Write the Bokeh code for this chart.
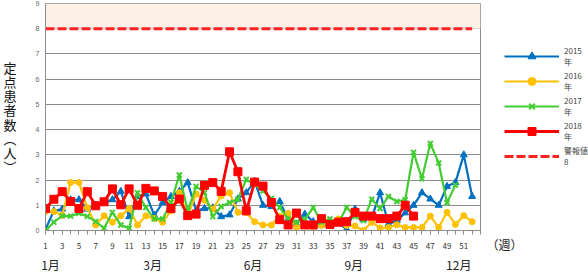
from bokeh.plotting import figure
from bokeh.layouts import row
from bokeh.models import (Range1d, FixedTicker, Legend, LegendItem,
                          BoxAnnotation, LinearAxis)
from bokeh.embed import file_html
from bokeh.resources import INLINE

# ---------------- data ----------------
weeks = list(range(1, 53))
y2015 = [0.05, 0.78, 0.85, 1.22, 1.22, 0.85, 1.0, 1.1, 1.22, 1.55,
         0.55, 1.35, 1.45, 0.6, 1.1, 1.35, 1.55, 1.9, 0.8, 0.87,
         0.9, 0.55, 0.62, 1.25, 1.5, 1.95, 1.0, 0.95, 1.15, 0.45,
         0.25, 0.65, 0.35, 0.22, 0.25, 0.3, 0.05, 0.85, 0.45, 0.5,
         1.5, 0.25, 0.4, 0.7, 1.0, 1.5, 1.25, 1.0, 1.75, 1.9,
         3.0, 1.35]
y2016 = [0.75, 0.75, 0.6, 1.9, 1.9, 0.9, 0.22, 0.58, 0.33, 0.58,
         0.87, 0.22, 0.58, 0.48, 0.33, 0.78, 1.5, 0.58, 1.45, 1.2,
         0.85, 1.37, 1.5, 0.72, 0.7, 0.35, 0.22, 0.22, 0.57, 0.68,
         0.12, 0.26, 0.16, 0.2, 0.33, 0.46, 0.2, 0.18, 0.0, 0.33,
         0.1, 0.12, 0.23, 0.12, 0.12, 0.12, 0.57, 0.12, 0.72, 0.24,
         0.59, 0.35]
y2017 = [0.0, 0.33, 0.58, 0.57, 0.68, 0.56, 0.36, 0.09, 0.72, 0.22,
         0.09, 1.5, 0.91, 0.46, 0.46, 1.11, 2.2, 0.78, 1.75, 1.5,
         0.55, 0.95, 1.11, 1.24, 2.02, 1.83, 1.57, 1.27, 0.91, 0.46,
         0.33, 0.45, 0.91, 0.33, 0.46, 0.3, 0.91, 0.55, 0.39, 1.24,
         0.87, 1.35, 1.15, 1.22, 3.1, 2.05, 3.45, 2.68, 1.1, 1.8]
y2018 = [0.87, 1.24, 1.54, 1.15, 0.87, 1.54, 0.98, 1.14, 1.65, 1.02,
         1.65, 1.0, 1.67, 1.57, 1.35, 0.87, 1.25, 0.59, 0.65, 1.79,
         1.9, 1.55, 3.12, 2.33, 0.78, 1.92, 1.76, 1.11, 0.43, 0.22,
         0.69, 0.22, 0.22, 0.47, 0.24, 0.33, 0.35, 0.72, 0.57, 0.57,
         0.47, 0.47, 0.57, 1.0, 0.57]
threshold = 8
x_tick_labels = list(range(1, 52, 2))
month_labels = ["1月", "3月", "6月", "9月", "12月"]
month_weeks = [1.6, 13.8, 25.8, 37.85, 50.4]
series_names = ["2015\n年", "2016\n年", "2017\n年", "2018\n年"]
threshold_name = "警報値\n8"
unit_label = "（週）"

FONT = "Noto Sans CJK JP"
GRID = "#8c8c8c"

p = figure(width=481, height=275, output_backend="svg", toolbar_location=None,
           x_range=Range1d(1, 53), y_range=Range1d(0, 9),
           min_border_left=41, min_border_right=1, min_border_top=3,
           min_border_bottom=42, background_fill_color="white",
           border_fill_color="white")
p.outline_line_color = GRID
p.xgrid.visible = False
p.ygrid.grid_line_color = GRID
p.ygrid.ticker = FixedTicker(ticks=list(range(0, 10)))

# warning zone
p.add_layout(BoxAnnotation(bottom=threshold, top=9, fill_color="#fdf0e6",
                           fill_alpha=1, line_alpha=0, level="underlay"))

# axes
xa = p.xaxis[0]
xa.ticker = FixedTicker(ticks=x_tick_labels, minor_ticks=list(range(1, 54)))
xa.axis_line_color = GRID
xa.major_tick_line_color = GRID
xa.minor_tick_line_color = GRID
xa.major_tick_in = 0
xa.major_tick_out = 4
xa.minor_tick_in = 0
xa.minor_tick_out = 4
xa.major_label_text_font_size = "8px"
xa.major_label_text_color = "#333333"
xa.major_label_text_font = FONT
xa.major_label_standoff = 8

ya = p.yaxis[0]
ya.ticker = FixedTicker(ticks=list(range(0, 10)))
ya.axis_line_color = GRID
ya.major_tick_in = 0
ya.major_tick_out = 0
ya.minor_tick_line_color = None
ya.major_label_text_font_size = "7px"
ya.major_label_text_color = "#666666"
ya.major_label_standoff = 6
ya.axis_label = "定\n点\n患\n者\n数\n︵\n人\n︶"
ya.axis_label_orientation = "horizontal"
ya.axis_label_text_font = FONT
ya.axis_label_text_font_size = "13px"
ya.axis_label_text_font_style = "normal"
ya.axis_label_text_color = "#111111"
ya.axis_label_text_line_height = 0.74
ya.axis_label_standoff = 16

month_axis = LinearAxis(ticker=FixedTicker(ticks=month_weeks),
                        major_label_overrides={m: t for m, t in zip(month_weeks, month_labels)})
month_axis.axis_line_color = None
month_axis.major_tick_line_color = None
month_axis.minor_tick_line_color = None
month_axis.major_label_text_font = FONT
month_axis.major_label_text_font_size = "12px"
month_axis.major_label_text_color = "#222222"
month_axis.major_label_standoff = -2
p.add_layout(month_axis, "below")

# threshold line
thr_style = dict(line_color="#ff2020", line_width=3, line_dash="9 3")
p.line([weeks[0], weeks[-1]], [threshold, threshold], **thr_style)

colors = ["#0070c0", "#ffc000", "#44cc33", "#ff0000"]
data = [y2015, y2016, y2017, y2018]
markers = ["triangle", "circle", "x", "square"]
msizes = [7, 6, 7, 8]
lwidths = [2.2, 2.2, 2.2, 2.8]

# ---------------- legend panel (frames of a row are aligned) ----------------
lg = figure(width=107, height=275, output_backend="svg", toolbar_location=None,
            x_range=Range1d(0, 107), y_range=Range1d(0, 1),
            min_border_left=0, min_border_right=0, min_border_top=3,
            min_border_bottom=42, y_axis_type=None,
            background_fill_color="white", border_fill_color="white")
lg.outline_line_color = None
lg.grid.visible = False
# the unit label "（週）" sits on the level of the week tick labels
ua = lg.xaxis[0]
ua.ticker = FixedTicker(ticks=[13])
ua.major_label_overrides = {13: unit_label}
ua.axis_line_color = None
ua.major_tick_line_color = None
ua.minor_tick_line_color = None
ua.major_label_text_font = FONT
ua.major_label_text_font_size = "12px"
ua.major_label_text_color = "#222222"
ua.major_label_standoff = -1

items = []
off = [-100, -99]  # dummy renderers outside the legend panel's range
for name, ys, c, m, s, lw in zip(series_names, data, colors, markers, msizes, lwidths):
    xs = weeks[:len(ys)]
    p.line(xs, ys, line_color=c, line_width=lw)
    if m == "x":
        p.scatter(xs, ys, marker=m, size=s, line_color=c, line_width=2)
        d2 = lg.scatter(off, off, marker=m, size=s - 2, line_color=c, line_width=2)
    else:
        p.scatter(xs, ys, marker=m, size=s, fill_color=c, line_color=c)
        d2 = lg.scatter(off, off, marker=m, size=s - 2, fill_color=c, line_color=c)
    d1 = lg.line(off, off, line_color=c, line_width=lw)
    items.append(LegendItem(label=name, renderers=[d1, d2]))
dthr = lg.line(off, off, **thr_style)
items.append(LegendItem(label=threshold_name, renderers=[dthr]))

legend = Legend(items=items, location=(23, 63), padding=0, margin=0,
                border_line_alpha=0, background_fill_alpha=0,
                glyph_width=55, glyph_height=20, label_height=20, spacing=3,
                label_standoff=5, label_text_font=FONT, label_text_font_size="8px",
                label_text_color="#444444", label_text_line_height=1.2)
lg.add_layout(legend)

layout = row(p, lg, spacing=0)
open("out.html", "w").write(file_html(layout, INLINE))
